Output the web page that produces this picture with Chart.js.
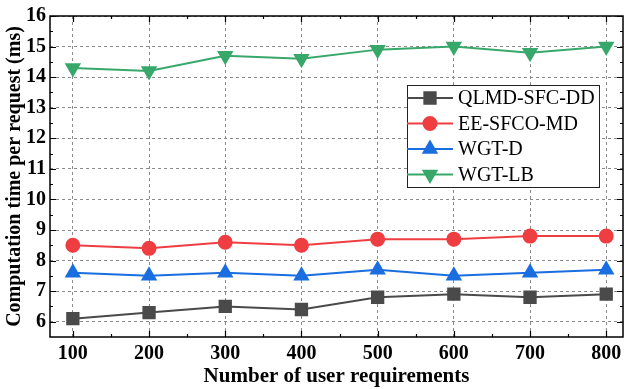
<!DOCTYPE html>
<html>
<head>
<meta charset="utf-8">
<script src="https://cdn.jsdelivr.net/npm/chart.js@4/dist/chart.umd.min.js"></script>
<style>
	html, body { margin: 0; padding: 0; background: #fff; }
	#wrap { width: 627px; height: 389px; }
</style>
</head>
<body>
<div id="wrap"><canvas id="chart" width="627" height="389"></canvas></div>
<script>
// Data
const requirements = [100, 200, 300, 400, 500, 600, 700, 800];
const qlmdSfcDd = [6.1, 6.3, 6.5, 6.4, 6.8, 6.9, 6.8, 6.9];
const eeSfcoMd = [8.5, 8.4, 8.6, 8.5, 8.7, 8.7, 8.8, 8.8];
const wgtD = [7.6, 7.5, 7.6, 7.5, 7.7, 7.5, 7.6, 7.7];
const wgtLb = [14.3, 14.2, 14.7, 14.6, 14.9, 15.0, 14.8, 15.0];
const seriesNames = ['QLMD-SFC-DD', 'EE-SFCO-MD', 'WGT-D', 'WGT-LB'];

const FONT = '"Liberation Serif", "Times New Roman", serif';

function makeSet(label, values, color, style, radius, rotation) {
	return {
		label: label,
		data: values.map((v, i) => ({ x: requirements[i], y: v })),
		borderColor: color,
		backgroundColor: color,
		pointBackgroundColor: color,
		pointBorderColor: color,
		pointStyle: style,
		pointRadius: radius,
		pointRotation: rotation || 0,
		borderWidth: 2,
		tension: 0
	};
}

/* Inward ticks on all four sides + frame */
const frameTicks = {
	id: 'frameTicks',
	afterDraw(chart) {
		const { ctx, chartArea: a, scales: { x, y } } = chart;
		ctx.save();
		ctx.strokeStyle = '#000';
		ctx.lineWidth = 1.5;
		ctx.strokeRect(a.left, a.top, a.right - a.left, a.bottom - a.top);
		ctx.lineWidth = 1.2;
		ctx.beginPath();
		for (let v = 100; v <= 800; v += 50) {
			const px = Math.round(x.getPixelForValue(v)) + 0.5;
			const len = v % 100 === 0 ? 6 : 3;
			ctx.moveTo(px, a.bottom); ctx.lineTo(px, a.bottom - len);
			ctx.moveTo(px, a.top); ctx.lineTo(px, a.top + len);
		}
		for (let v = 6; v <= 16; v += 0.5) {
			const py = Math.round(y.getPixelForValue(v)) + 0.5;
			const len = Number.isInteger(v) ? 6 : 3;
			ctx.moveTo(a.left, py); ctx.lineTo(a.left + len, py);
			ctx.moveTo(a.right, py); ctx.lineTo(a.right - len, py);
		}
		ctx.stroke();
		ctx.restore();
	}
};

/* Boxed legend inside the plot */
const boxLegend = {
	id: 'boxLegend',
	afterDraw(chart) {
		const { ctx } = chart;
		const left = 407, top = 85, w = 192, h = 102;
		ctx.save();
		ctx.fillStyle = '#fff';
		ctx.fillRect(left, top, w, h);
		ctx.strokeStyle = '#222';
		ctx.lineWidth = 1;
		ctx.strokeRect(left + 0.5, top + 0.5, w, h);
		ctx.font = '20px ' + FONT;
		ctx.textBaseline = 'middle';
		chart.data.datasets.forEach((ds, i) => {
			const cy = top + 13 + i * 25.5;
			ctx.strokeStyle = ds.borderColor;
			ctx.lineWidth = 2;
			ctx.beginPath();
			ctx.moveTo(left, cy); ctx.lineTo(left + 46, cy);
			ctx.stroke();
			Chart.helpers.drawPoint(ctx, {
				pointStyle: ds.pointStyle,
				radius: ds.pointRadius,
				rotation: ds.pointRotation,
				borderWidth: 1
			}, left + 23, cy);
			ctx.fillStyle = ds.borderColor;
			ctx.fill();
			ctx.fillStyle = '#000';
			ctx.fillText(ds.label, left + 51, cy + 1);
		});
		ctx.restore();
	}
};

new Chart(document.getElementById('chart'), {
	type: 'line',
	data: {
		datasets: [
			makeSet(seriesNames[0], qlmdSfcDd, '#4a4a4a', 'rect', 8),
			makeSet(seriesNames[1], eeSfcoMd, '#ef3e42', 'circle', 6.5),
			makeSet(seriesNames[2], wgtD, '#1a6ee0', 'triangle', 7.5),
			makeSet(seriesNames[3], wgtLb, '#38a86a', 'triangle', 7.5, 180)
		]
	},
	options: {
		responsive: false,
		animation: false,
		layout: { autoPadding: false, padding: { top: 16, right: 4, left: 0, bottom: 0 } },
		plugins: {
			legend: { display: false },
			tooltip: { enabled: false }
		},
		scales: {
			x: {
				type: 'linear',
				min: 70,
				max: 822,
				afterBuildTicks: scale => { scale.ticks = requirements.map(v => ({ value: v })); },
				afterFit: scale => {
					scale.height = 52;
					scale.paddingLeft = 0;
					scale.paddingRight = 0;
				},
				grid: { color: '#8a8a8a', drawTicks: false, lineWidth: 1 },
				border: { display: false, dash: [3, 3] },
				ticks: { color: '#000', padding: 5, font: { family: FONT, size: 20, weight: 'bold' } },
				title: {
					display: true,
					text: 'Number of user requirements',
					color: '#000',
					padding: { top: -4, bottom: 0 },
					font: { family: FONT, size: 21, weight: 'bold' }
				}
			},
			y: {
				min: 5.5,
				max: 16,
				afterBuildTicks: scale => {
					const t = [];
					for (let v = 6; v <= 16; v++) t.push({ value: v });
					scale.ticks = t;
				},
				afterFit: scale => {
					scale.width = 50;
					scale.paddingTop = 0;
					scale.paddingBottom = 0;
				},
				grid: { color: '#8a8a8a', drawTicks: false, lineWidth: 1 },
				border: { display: false, dash: [3, 3] },
				ticks: { color: '#000', padding: 4, font: { family: FONT, size: 20, weight: 'bold' } },
				title: {
					display: true,
					text: 'Computation time per request (ms)',
					color: '#000',
					padding: { top: 3, bottom: 0 },
					font: { family: FONT, size: 20, weight: 'bold' }
				}
			}
		}
	},
	plugins: [frameTicks, boxLegend]
});
</script>
</body>
</html>
